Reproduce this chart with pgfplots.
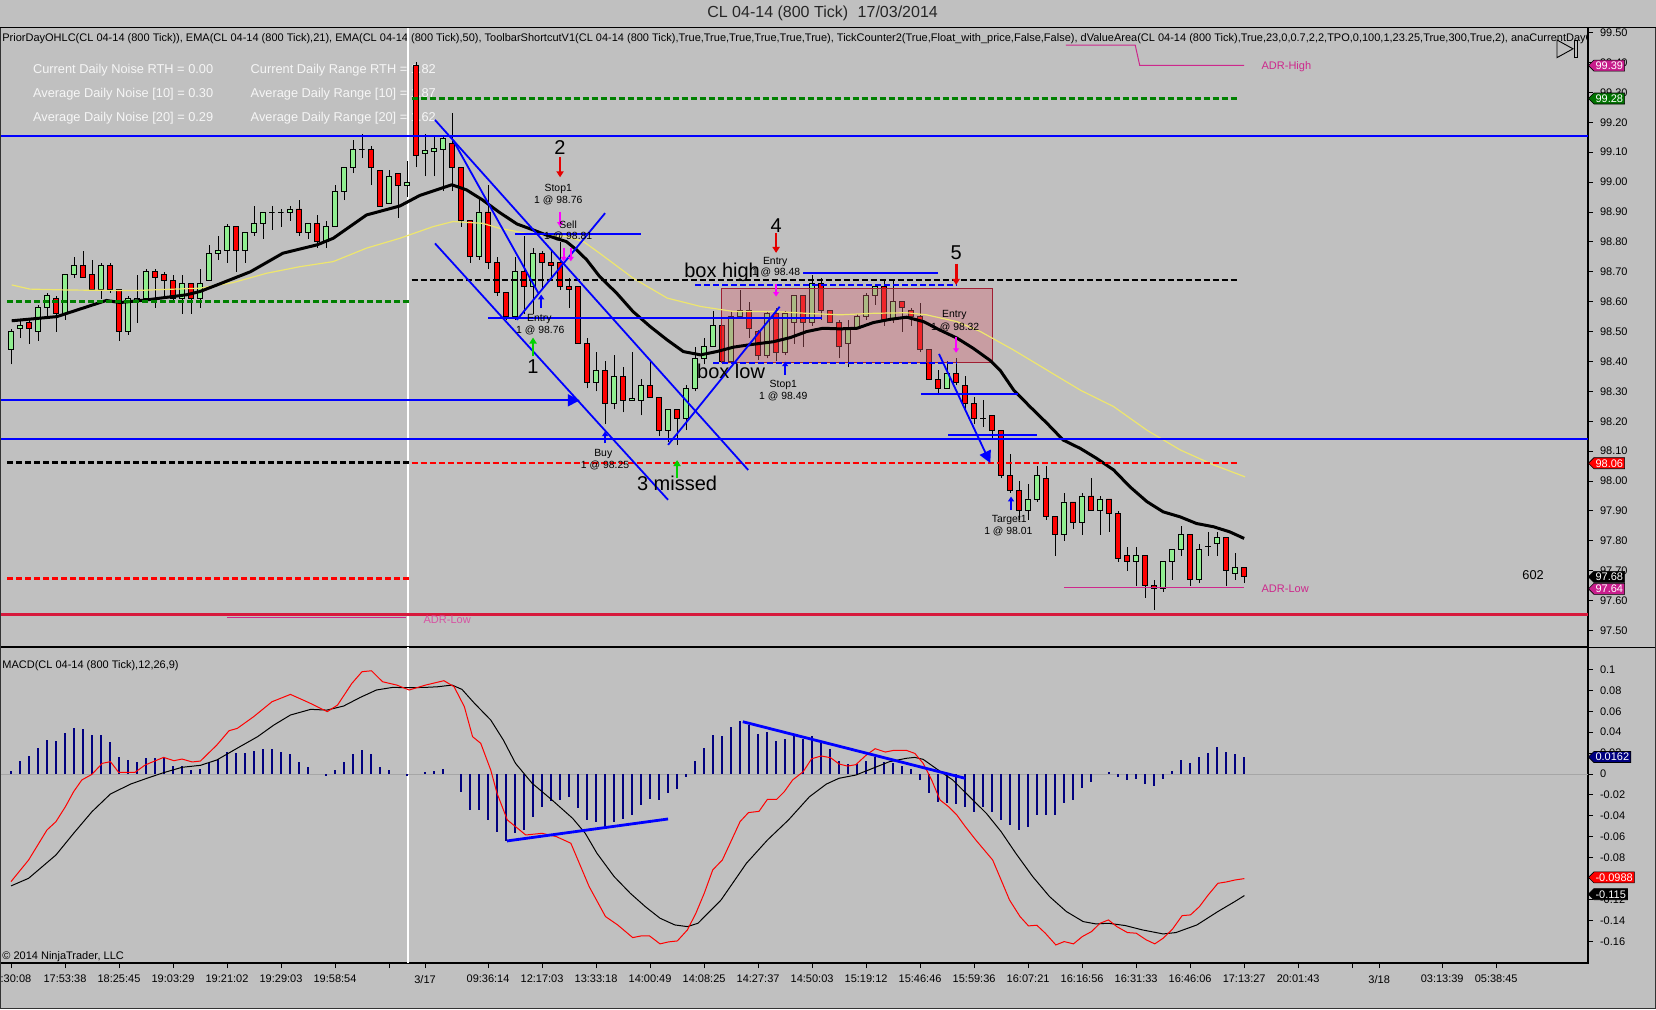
\documentclass[border=0pt]{standalone}
\usepackage{fontspec}
\setmainfont{Liberation Sans}
\usepackage{pgfplots}
\pgfplotsset{compat=1.18}
\usetikzlibrary{arrows.meta,shapes.symbols}
\definecolor{bg}{RGB}{192,192,192}
\definecolor{cgreen}{RGB}{144,238,144}
\definecolor{cred}{RGB}{255,0,0}
\definecolor{dgreen}{RGB}{0,128,0}
\definecolor{pblue}{RGB}{0,0,255}
\definecolor{navyb}{RGB}{0,0,128}
\definecolor{emay}{RGB}{238,230,110}
\definecolor{adr}{RGB}{205,40,140}
\definecolor{crim}{RGB}{215,25,60}
\definecolor{boxf}{RGB}{215,100,115}
\definecolor{boxd}{RGB}{160,30,50}
\definecolor{pinkm}{RGB}{255,0,255}
\definecolor{txtw}{RGB}{246,246,246}
\definecolor{tagm}{RGB}{200,30,140}
\definecolor{tagg}{RGB}{0,115,0}
\definecolor{agreen}{RGB}{0,210,0}
\newcommand\fsA{\fontsize{5.5pt}{6.5pt}\selectfont}
\newcommand\fsS{\fontsize{5.2pt}{6pt}\selectfont}
\newcommand\fsB{\fontsize{6.4pt}{7.5pt}\selectfont}
\newcommand\fsT{\fontsize{8pt}{9.5pt}\selectfont}
\newcommand\fsL{\fontsize{10pt}{11pt}\selectfont}
\newcommand\cdl[5]{%
  \addplot[black, line width=0.45pt] coordinates {(#1,#4) (#1,#3)};
  \pgfmathsetmacro\xl{#1-0.3}%
  \pgfmathsetmacro\xr{#1+0.3}%
  \pgfmathparse{(#5<#2)?1:0}%
  \ifdim\pgfmathresult pt>0.5pt \def\cc{cred}\else\def\cc{cgreen}\fi
  \edef\tmp{\noexpand\addplot[draw=black, line width=0.45pt, fill=\cc] coordinates {(\xl,#2) (\xr,#2) (\xr,#5) (\xl,#5) (\xl,#2)};}%
  \tmp
}
\pgfplotstableread{
i v
1 0.003
2 0.0127
3 0.017
4 0.025
5 0.0325
6 0.032
7 0.0395
8 0.0443
9 0.043
10 0.037
11 0.037
12 0.031
13 0.0166
14 0.0134
15 0.0115
16 0.0156
17 0.0156
18 0.015
19 0.0076
20 0.0076
21 0.0038
22 0.0045
23 0.0108
24 0.0143
25 0.0213
26 0.0197
27 0.0204
28 0.0223
29 0.0239
30 0.0236
31 0.0213
32 0.0191
33 0.0118
34 0.007
35 0
36 -0.002
37 0.0038
38 0.0115
39 0.0191
40 0.023
41 0.0191
42 0.007
43 0.0038
44 0
45 -0.002
46 0
47 0.002
48 0.0025
49 0.0045
50 0
51 -0.0169
52 -0.0344
53 -0.0344
54 -0.044
55 -0.055
56 -0.064
57 -0.0567
58 -0.0535
59 -0.0408
60 -0.0318
61 -0.0255
62 -0.0248
63 -0.0223
64 -0.0322
65 -0.044
66 -0.0455
67 -0.0503
68 -0.0455
69 -0.0433
70 -0.039
71 -0.0296
72 -0.0239
73 -0.0248
74 -0.0178
75 -0.0143
76 -0.0025
77 0.0127
78 0.0252
79 0.0373
80 0.0363
81 0.0452
82 0.0506
83 0.0468
84 0.0382
85 0.0404
86 0.0318
87 0.0334
88 0.0373
89 0.0331
90 0.0363
91 0.0299
92 0.0239
93 0.0127
94 0.0096
95 0.0092
96 0.0124
97 0.0166
98 0.0118
99 0.0108
100 0.0076
101 0.0045
102 -0.0057
103 -0.0178
104 -0.0264
105 -0.0274
106 -0.0287
107 -0.0318
108 -0.036
109 -0.0312
110 -0.0366
111 -0.044
112 -0.0487
113 -0.0535
114 -0.0503
115 -0.0392
116 -0.0392
117 -0.0392
118 -0.028
119 -0.0248
120 -0.013
121 -0.0073
122 0
123 0.0022
124 -0.0025
125 -0.0057
126 -0.0051
127 -0.0096
128 -0.0111
129 -0.0045
130 0.0032
131 0.0134
132 0.0102
133 0.0159
134 0.0197
135 0.0255
136 0.0207
137 0.0188
138 0.0166
}\histtbl
\begin{document}
\begin{tikzpicture}
\useasboundingbox (0,0) rectangle (828pt,-504.5pt);
\fill[bg] (0,0) rectangle (828pt,-504.5pt);
\node[text=black!85, font=\fsT] at (411.3pt,-6.9pt) {CL 04-14 (800 Tick)\hspace{0.6em}17/03/2014};
\begin{scope}
\clip (0,-14.2pt) rectangle (793.5pt,-24.5pt);
\node[anchor=west, inner sep=0pt, font=\fsA, text=black] at (1pt,-19.1pt) {PriorDayOHLC(CL 04-14 (800 Tick)), EMA(CL 04-14 (800 Tick),21), EMA(CL 04-14 (800 Tick),50), ToolbarShortcutV1(CL 04-14 (800 Tick),True,True,True,True,True,True), TickCounter2(True,Float\_with\_price,False,False), dValueArea(CL 04-14 (800 Tick),True,23,0,0.7,2,2,TPO,0,100,1,23.25,True,300,True,2), anaCurrentDayOHL(CL 04-14 (800 Tick))};
\end{scope}
\begin{scope}[every node/.style={anchor=west, inner sep=0pt, font=\fsB, text=txtw}]
\node at (16.35pt,-35.3pt) {Current Daily Noise RTH = 0.00};
\node at (16.35pt,-47.3pt) {Average Daily Noise [10] = 0.30};
\node at (16.35pt,-59pt) {Average Daily Noise [20] = 0.29};
\node at (125.15pt,-35.3pt) {Current Daily Range RTH = 1.82};
\node at (125.15pt,-47.3pt) {Average Daily Range [10] = 1.87};
\node at (125.15pt,-59pt) {Average Daily Range [20] = 1.62};
\end{scope}
\node[anchor=west, inner sep=0pt, font=\fsA] at (1pt,-333pt) {MACD(CL 04-14 (800 Tick),12,26,9)};
\node[anchor=west, inner sep=0pt, font=\fsA] at (1pt,-478.3pt) {\textcopyright\ 2014 NinjaTrader, LLC};
% ---------------- price panel
\begin{axis}[
  at={(0pt,-323.5pt)}, anchor=south west, scale only axis,
  width=794pt, height=309.75pt,
  xmin=-0.22, xmax=176.2, ymin=97.4448, ymax=99.517,
  axis line style={draw=black, line width=0.6pt},
  xtick=\empty,
  ytick={97.5,97.6,97.7,97.8,97.9,98.0,98.1,98.2,98.3,98.4,98.5,98.6,98.7,98.8,98.9,99.0,99.1,99.2,99.3,99.4,99.5},
  ytick pos=right, yticklabel pos=right, tick align=outside, major tick length=2.5pt,
  tick style={black, line width=0.45pt},
  yticklabel style={font=\fsA, /pgf/number format/.cd, fixed, fixed zerofill, precision=2, assume math mode=true},
  clip=true,
]
\addplot[white, line width=1pt] coordinates {(45.15,97.4448) (45.15,99.517)};
\cdl{1}{98.44}{98.51}{98.39}{98.50}
\cdl{2}{98.51}{98.54}{98.48}{98.52}
\cdl{3}{98.53}{98.54}{98.46}{98.51}
\cdl{4}{98.50}{98.59}{98.47}{98.58}
\cdl{5}{98.58}{98.63}{98.55}{98.62}
\cdl{6}{98.61}{98.62}{98.50}{98.56}
\cdl{7}{98.56}{98.69}{98.54}{98.69}
\cdl{8}{98.69}{98.75}{98.68}{98.72}
\cdl{9}{98.72}{98.77}{98.68}{98.68}
\cdl{10}{98.69}{98.74}{98.64}{98.64}
\cdl{11}{98.64}{98.73}{98.61}{98.72}
\cdl{12}{98.72}{98.73}{98.63}{98.64}
\cdl{13}{98.64}{98.64}{98.47}{98.50}
\cdl{14}{98.50}{98.62}{98.49}{98.61}
\cdl{15}{98.605}{98.69}{98.53}{98.61}
\cdl{16}{98.61}{98.71}{98.60}{98.70}
\cdl{17}{98.70}{98.71}{98.58}{98.68}
\cdl{18}{98.69}{98.70}{98.62}{98.67}
\cdl{19}{98.67}{98.69}{98.60}{98.61}
\cdl{20}{98.61}{98.69}{98.56}{98.66}
\cdl{21}{98.66}{98.66}{98.56}{98.61}
\cdl{22}{98.61}{98.71}{98.58}{98.66}
\cdl{23}{98.67}{98.79}{98.67}{98.76}
\cdl{24}{98.76}{98.82}{98.74}{98.77}
\cdl{25}{98.77}{98.86}{98.73}{98.85}
\cdl{26}{98.85}{98.85}{98.70}{98.77}
\cdl{27}{98.77}{98.83}{98.73}{98.83}
\cdl{28}{98.83}{98.92}{98.82}{98.86}
\cdl{29}{98.86}{98.90}{98.81}{98.90}
\cdl{30}{98.90}{98.92}{98.84}{98.90}
\cdl{31}{98.90}{98.91}{98.85}{98.90}
\cdl{32}{98.90}{98.92}{98.87}{98.91}
\cdl{33}{98.91}{98.94}{98.82}{98.83}
\cdl{34}{98.83}{98.86}{98.81}{98.86}
\cdl{35}{98.86}{98.89}{98.78}{98.80}
\cdl{36}{98.80}{98.87}{98.78}{98.85}
\cdl{37}{98.85}{98.99}{98.85}{98.97}
\cdl{38}{98.97}{99.05}{98.94}{99.05}
\cdl{39}{99.05}{99.14}{99.03}{99.11}
\cdl{40}{99.11}{99.16}{99.08}{99.11}
\cdl{41}{99.11}{99.12}{98.99}{99.05}
\cdl{42}{99.04}{99.04}{98.92}{98.92}
\cdl{43}{98.93}{99.04}{98.93}{99.02}
\cdl{44}{99.03}{99.03}{98.88}{98.99}
\cdl{45}{98.99}{99.07}{98.95}{99.00}
\cdl{46}{99.39}{99.40}{99.05}{99.09}
\cdl{47}{99.095}{99.16}{99.02}{99.106}
\cdl{48}{99.102}{99.15}{99.02}{99.113}
\cdl{49}{99.11}{99.15}{98.97}{99.145}
\cdl{50}{99.13}{99.23}{98.97}{99.05}
\cdl{51}{99.05}{99.05}{98.85}{98.87}
\cdl{52}{98.87}{98.87}{98.73}{98.75}
\cdl{53}{98.75}{98.95}{98.74}{98.90}
\cdl{54}{98.90}{98.99}{98.71}{98.73}
\cdl{55}{98.73}{98.75}{98.62}{98.63}
\cdl{56}{98.63}{98.63}{98.54}{98.55}
\cdl{57}{98.55}{98.75}{98.54}{98.70}
\cdl{58}{98.70}{98.82}{98.56}{98.65}
\cdl{59}{98.65}{98.78}{98.56}{98.76}
\cdl{60}{98.76}{98.77}{98.64}{98.73}
\cdl{61}{98.73}{98.77}{98.67}{98.72}
\cdl{62}{98.73}{98.80}{98.64}{98.65}
\cdl{63}{98.65}{98.68}{98.58}{98.64}
\cdl{64}{98.65}{98.65}{98.46}{98.46}
\cdl{65}{98.46}{98.48}{98.31}{98.33}
\cdl{66}{98.33}{98.43}{98.30}{98.37}
\cdl{67}{98.37}{98.40}{98.19}{98.26}
\cdl{68}{98.26}{98.42}{98.24}{98.35}
\cdl{69}{98.35}{98.38}{98.23}{98.27}
\cdl{70}{98.27}{98.43}{98.27}{98.275}
\cdl{71}{98.27}{98.34}{98.22}{98.32}
\cdl{72}{98.32}{98.40}{98.28}{98.28}
\cdl{73}{98.28}{98.28}{98.15}{98.17}
\cdl{74}{98.17}{98.24}{98.13}{98.24}
\cdl{75}{98.24}{98.24}{98.12}{98.21}
\cdl{76}{98.21}{98.32}{98.17}{98.31}
\cdl{77}{98.31}{98.45}{98.30}{98.41}
\cdl{78}{98.41}{98.48}{98.39}{98.45}
\cdl{79}{98.45}{98.57}{98.45}{98.52}
\cdl{80}{98.52}{98.52}{98.39}{98.40}
\cdl{81}{98.40}{98.57}{98.40}{98.55}
\cdl{82}{98.55}{98.64}{98.55}{98.57}
\cdl{83}{98.57}{98.60}{98.48}{98.51}
\cdl{84}{98.50}{98.505}{98.405}{98.42}
\cdl{85}{98.42}{98.57}{98.41}{98.56}
\cdl{86}{98.56}{98.58}{98.40}{98.43}
\cdl{87}{98.43}{98.57}{98.42}{98.56}
\cdl{88}{98.53}{98.62}{98.46}{98.62}
\cdl{89}{98.62}{98.62}{98.45}{98.53}
\cdl{90}{98.53}{98.69}{98.52}{98.66}
\cdl{91}{98.66}{98.68}{98.54}{98.57}
\cdl{92}{98.57}{98.57}{98.53}{98.53}
\cdl{93}{98.53}{98.54}{98.41}{98.45}
\cdl{94}{98.46}{98.54}{98.38}{98.51}
\cdl{95}{98.51}{98.56}{98.51}{98.55}
\cdl{96}{98.55}{98.63}{98.54}{98.62}
\cdl{97}{98.62}{98.66}{98.59}{98.65}
\cdl{98}{98.65}{98.67}{98.52}{98.54}
\cdl{99}{98.54}{98.67}{98.53}{98.60}
\cdl{100}{98.60}{98.60}{98.50}{98.58}
\cdl{101}{98.57}{98.58}{98.52}{98.55}
\cdl{102}{98.55}{98.595}{98.43}{98.44}
\cdl{103}{98.44}{98.44}{98.34}{98.34}
\cdl{104}{98.34}{98.37}{98.29}{98.31}
\cdl{105}{98.31}{98.40}{98.31}{98.36}
\cdl{106}{98.36}{98.41}{98.32}{98.33}
\cdl{107}{98.32}{98.35}{98.23}{98.26}
\cdl{108}{98.26}{98.28}{98.19}{98.21}
\cdl{109}{98.21}{98.27}{98.18}{98.21}
\cdl{110}{98.22}{98.22}{98.14}{98.17}
\cdl{111}{98.17}{98.17}{98.01}{98.02}
\cdl{112}{98.02}{98.09}{97.96}{97.97}
\cdl{113}{97.97}{98.00}{97.87}{97.90}
\cdl{114}{97.90}{97.99}{97.87}{97.94}
\cdl{115}{97.94}{98.05}{97.93}{98.02}
\cdl{116}{98.01}{98.05}{97.87}{97.88}
\cdl{117}{97.88}{97.88}{97.75}{97.82}
\cdl{118}{97.82}{97.96}{97.80}{97.93}
\cdl{119}{97.93}{97.93}{97.84}{97.86}
\cdl{120}{97.86}{97.96}{97.82}{97.95}
\cdl{121}{97.95}{98.01}{97.90}{97.90}
\cdl{122}{97.90}{97.95}{97.82}{97.94}
\cdl{123}{97.94}{97.94}{97.83}{97.89}
\cdl{124}{97.89}{97.90}{97.73}{97.74}
\cdl{125}{97.75}{97.78}{97.70}{97.73}
\cdl{126}{97.73}{97.78}{97.65}{97.75}
\cdl{127}{97.75}{97.75}{97.61}{97.65}
\cdl{128}{97.65}{97.67}{97.57}{97.64}
\cdl{129}{97.64}{97.73}{97.63}{97.73}
\cdl{130}{97.73}{97.77}{97.67}{97.77}
\cdl{131}{97.77}{97.85}{97.75}{97.82}
\cdl{132}{97.82}{97.82}{97.65}{97.67}
\cdl{133}{97.67}{97.79}{97.66}{97.77}
\cdl{134}{97.78}{97.83}{97.75}{97.78}
\cdl{135}{97.79}{97.83}{97.75}{97.81}
\cdl{136}{97.81}{97.81}{97.65}{97.70}
\cdl{137}{97.69}{97.76}{97.67}{97.71}
\cdl{138}{97.71}{97.71}{97.66}{97.68}
% box
\addplot[fill=boxf, fill opacity=0.38, draw=boxd, line width=0.5pt] coordinates {(79.9,98.396) (110.05,98.396) (110.05,98.645) (79.9,98.645) (79.9,98.396)};
% EMA 50
\addplot[emay, line width=0.6pt] coordinates {(1.08,98.656) (3.1,98.642) (7.2,98.639) (14.6,98.637) (22,98.645) (25.7,98.664) (29.4,98.695) (33.1,98.717) (36.8,98.734) (40.5,98.779) (44.2,98.812) (47.9,98.851) (50.1,98.868) (53.4,98.862) (55.2,98.846) (59,98.824) (62.7,98.818) (64.6,98.801) (66.4,98.762) (70.1,98.679) (73.9,98.612) (77.6,98.584) (81.3,98.567) (85.7,98.567) (89.4,98.561) (93.1,98.556) (96.8,98.561) (100.5,98.563) (102.7,98.556) (106.1,98.533) (108.7,98.50) (112.4,98.438) (116.1,98.371) (119.8,98.304) (123.5,98.249) (127.2,98.17) (130.9,98.104) (134.6,98.054) (138.1,98.014)};
% EMA 21
\addplot[black, line width=1.5pt, line join=round] coordinates {(1.08,98.536) (6.1,98.55) (11.6,98.604) (13.1,98.597) (16.1,98.606) (20.5,98.623) (22,98.634) (23.9,98.656) (27.6,98.70) (31.2,98.762) (35,98.79) (36.8,98.812) (40.5,98.89) (44.2,98.92) (46.4,98.955) (49.97,98.991) (51.6,98.974) (53.4,98.94) (55.2,98.90) (57.2,98.86) (59,98.84) (60.9,98.818) (62.7,98.801) (63.85,98.773) (64.96,98.74) (66.4,98.684) (68.3,98.628) (70.1,98.567) (72,98.517) (73.9,98.472) (75.7,98.433) (77.6,98.422) (79.4,98.433) (81.3,98.448) (83.1,98.456) (85.7,98.466) (87.6,98.48) (89.4,98.50) (91.2,98.511) (93.1,98.509) (95,98.511) (96.8,98.53) (98.7,98.541) (100.5,98.548) (102.4,98.533) (104.2,98.505) (106.1,98.478) (107.9,98.444) (109.8,98.403) (110.9,98.37) (112.4,98.304) (114.2,98.249) (116.1,98.193) (117.9,98.137) (119.8,98.109) (121.6,98.076) (123.5,98.037) (125.3,97.981) (127.2,97.931) (129,97.897) (130.9,97.88) (132.7,97.858) (134.6,97.847) (136.4,97.83) (138,97.808)};
% horizontal levels
\addplot[dgreen, line width=1.3pt, dash pattern=on 3pt off 1.5pt] coordinates {(45.5,99.28) (137.3,99.28)};
\addplot[dgreen, line width=1.3pt, dash pattern=on 3pt off 1.5pt] coordinates {(0.6,98.60) (45.3,98.60)};
\addplot[black, line width=1.3pt, dash pattern=on 3pt off 1.5pt] coordinates {(45.5,98.673) (137.3,98.673)};
\addplot[black, line width=1.3pt, dash pattern=on 3pt off 1.5pt] coordinates {(0.6,98.062) (45.3,98.062)};
\addplot[red, line width=1.3pt, dash pattern=on 3pt off 1.5pt] coordinates {(45.5,98.06) (137.3,98.06)};
\addplot[red, line width=1.3pt, dash pattern=on 3pt off 1.5pt] coordinates {(0.6,97.673) (45.3,97.673)};
\addplot[crim, line width=1.3pt] coordinates {(-0.22,97.553) (176.2,97.553)};
\addplot[adr, line width=0.5pt] coordinates {(25.0,97.543) (44.9,97.543)};
\addplot[adr, line width=0.5pt] coordinates {(118.2,99.458) (125.9,99.458) (126.4,99.39) (138,99.39)};
\addplot[adr, line width=0.5pt] coordinates {(118,97.645) (138,97.645)};
\addplot[pblue, line width=0.9pt] coordinates {(-0.22,99.154) (176.2,99.154)};
\addplot[pblue, line width=0.9pt] coordinates {(-0.22,98.14) (176.2,98.14)};
\addplot[pblue, line width=0.9pt, -{Triangle[width=6pt,length=6pt]}] coordinates {(-0.22,98.27) (64.2,98.27)};
% channel / trend lines
\addplot[pblue, line width=0.9pt] coordinates {(48.1,99.208) (82.9,98.037)};
\addplot[pblue, line width=0.9pt] coordinates {(50.1,99.141) (59.6,98.628)};
\addplot[pblue, line width=0.9pt] coordinates {(48.1,98.795) (74.0,97.937)};
\addplot[pblue, line width=0.9pt] coordinates {(57.2,98.539) (67.0,98.896)};
\addplot[pblue, line width=0.9pt] coordinates {(74.0,98.121) (86.4,98.583)};
\addplot[pblue, line width=0.9pt] coordinates {(57.0,98.826) (71.0,98.826)};
\addplot[pblue, line width=0.9pt] coordinates {(54.0,98.545) (91.1,98.545)};
\addplot[pblue, line width=0.9pt] coordinates {(89.0,98.695) (104.0,98.695)};
\addplot[pblue, line width=0.9pt, dash pattern=on 3pt off 1.5pt] coordinates {(77.0,98.655) (106.1,98.655)};
\addplot[pblue, line width=0.9pt, dash pattern=on 3pt off 1.5pt] coordinates {(79.0,98.395) (106.1,98.395)};
\addplot[pblue, line width=0.9pt] coordinates {(102.1,98.291) (112.9,98.291)};
\addplot[pblue, line width=0.9pt] coordinates {(105.1,98.154) (115.0,98.154)};
\addplot[pblue, line width=0.9pt, -{Triangle[width=6pt,length=6pt]}] coordinates {(104.1,98.425) (109.8,98.06)};
% trade arrows
\addplot[red!90!black, line width=1.4pt, -{Triangle[width=3.6pt,length=3pt]}] coordinates {(62.0,99.085) (62.0,99.016)};
\addplot[red!90!black, line width=1.4pt, -{Triangle[width=3.6pt,length=3pt]}] coordinates {(86.0,98.83) (86.0,98.763)};
\addplot[red!90!black, line width=1.4pt, -{Triangle[width=3.6pt,length=3pt]}] coordinates {(106.0,98.726) (106.0,98.656)};
\addplot[pinkm, line width=1pt, -{Triangle[width=2.8pt,length=2.2pt]}] coordinates {(62.0,98.90) (62.0,98.851)};
\addplot[pinkm, line width=1pt, -{Triangle[width=2.8pt,length=2.2pt]}] coordinates {(62.4,98.78) (62.4,98.735)};
\addplot[pinkm, line width=1pt, -{Triangle[width=2.8pt,length=2.2pt]}] coordinates {(63.2,98.78) (63.2,98.735)};
\addplot[pinkm, line width=1pt, -{Triangle[width=2.8pt,length=2.2pt]}] coordinates {(86.0,98.658) (86.0,98.617)};
\addplot[pinkm, line width=1pt, -{Triangle[width=2.8pt,length=2.2pt]}] coordinates {(106.0,98.483) (106.0,98.429)};
\addplot[pblue, line width=1.2pt, -{Triangle[width=3pt,length=2.4pt]}] coordinates {(59.9,98.578) (59.9,98.624)};
\addplot[pblue, line width=1.2pt, -{Triangle[width=3pt,length=2.4pt]}] coordinates {(87.0,98.355) (87.0,98.40)};
\addplot[pblue, line width=1.2pt, -{Triangle[width=3pt,length=2.4pt]}] coordinates {(67.0,98.126) (67.0,98.166)};
\addplot[pblue, line width=1.2pt, -{Triangle[width=3pt,length=2.4pt]}] coordinates {(112.1,97.903) (112.1,97.948)};
\addplot[agreen, line width=1.3pt, -{Triangle[width=3.6pt,length=3pt]}] coordinates {(59.0,98.417) (59.0,98.48)};
\addplot[agreen, line width=1.3pt, -{Triangle[width=3.6pt,length=3pt]}] coordinates {(75.0,98.009) (75.0,98.07)};
% annotations
\node[font=\fsL] at (axis cs:62.0,99.115) {2};
\node[font=\fsS, inner sep=0pt] at (axis cs:61.8,98.977) {Stop1};
\node[font=\fsS, inner sep=0pt] at (axis cs:61.8,98.938) {1 @ 98.76};
\node[font=\fsS, inner sep=0pt] at (axis cs:62.9,98.857) {Sell};
\node[font=\fsS, inner sep=0pt] at (axis cs:62.9,98.818) {1 @ 98.81};
\node[font=\fsS, inner sep=0pt] at (axis cs:59.7,98.542) {Entry};
\node[font=\fsS, inner sep=0pt] at (axis cs:59.8,98.504) {1 @ 98.76};
\node[font=\fsL] at (axis cs:59.0,98.383) {1};
\node[font=\fsL] at (axis cs:86.0,98.853) {4};
\node[font=\fsS, inner sep=0pt] at (axis cs:85.9,98.734) {Entry};
\node[font=\fsS, inner sep=0pt] at (axis cs:86.0,98.697) {1 @ 98.48};
\node[font=\fsL, inner sep=0pt] at (axis cs:80.0,98.698) {box high};
\node[font=\fsL, inner sep=0pt] at (axis cs:81.0,98.366) {box low};
\node[font=\fsS, inner sep=0pt] at (axis cs:86.8,98.321) {Stop1};
\node[font=\fsS, inner sep=0pt] at (axis cs:86.8,98.282) {1 @ 98.49};
\node[font=\fsL] at (axis cs:106.0,98.764) {5};
\node[font=\fsS, inner sep=0pt] at (axis cs:105.8,98.556) {Entry};
\node[font=\fsS, inner sep=0pt] at (axis cs:105.9,98.514) {1 @ 98.32};
\node[font=\fsS, inner sep=0pt] at (axis cs:66.8,98.09) {Buy};
\node[font=\fsS, inner sep=0pt] at (axis cs:67.0,98.051) {1 @ 98.25};
\node[font=\fsL, inner sep=0pt] at (axis cs:75.0,97.993) {3 missed};
\node[font=\fsS, inner sep=0pt] at (axis cs:111.9,97.87) {Target1};
\node[font=\fsS, inner sep=0pt] at (axis cs:111.8,97.83) {1 @ 98.01};
\node[font=\fsA, text=adr, anchor=west, inner sep=0pt] at (axis cs:139.9,99.386) {ADR-High};
\node[font=\fsA, text=adr, anchor=west, inner sep=0pt] at (axis cs:139.9,97.64) {ADR-Low};
\node[font=\fsA, text=adr!80!white, anchor=west, inner sep=0pt] at (axis cs:46.8,97.537) {ADR-Low};
\node[font=\fsB, inner sep=0pt] at (axis cs:170.1,97.684) {602};
\end{axis}
% ---------------- MACD panel
\begin{axis}[
  at={(0pt,-481.5pt)}, anchor=south west, scale only axis,
  width=794pt, height=158pt,
  xmin=-0.22, xmax=176.2, ymin=-0.1807, ymax=0.1214,
  axis line style={draw=black, line width=0.6pt},
  xtick={1,7,13,19,25,31,37,43,47,54,60,66,72,78,84,90,96,102,108,114,120,126,132,138,144,150,153,160,166},
  xticklabels={{\hspace*{5pt}:30:08},17:53:38,18:25:45,19:03:29,19:21:02,19:29:03,19:58:54,{},3/17,09:36:14,12:17:03,13:33:18,14:00:49,14:08:25,14:27:37,14:50:03,15:19:12,15:46:46,15:59:36,16:07:21,16:16:56,16:31:33,16:46:06,17:13:27,20:01:43,{},3/18,03:13:39,05:38:45},
  ytick={-0.16,-0.14,-0.12,-0.1,-0.08,-0.06,-0.04,-0.02,0,0.02,0.04,0.06,0.08,0.1},
  yticklabels={-0.16,-0.14,-0.12,-0.1,-0.08,-0.06,-0.04,-0.02,0,0.02,0.04,0.06,0.08,0.1},
  xtick pos=bottom, ytick pos=right, yticklabel pos=right,
  tick align=outside, major tick length=2.5pt,
  tick style={black, line width=0.45pt},
  xticklabel style={font=\fsA},
  yticklabel style={font=\fsA},
  clip=true,
]
\addplot[white, line width=1pt] coordinates {(45.15,-0.1807) (45.15,0.1214)};
\addplot[black!35, line width=0.4pt] coordinates {(-0.22,0) (176.2,0)};
\addplot[ycomb, navyb, line width=0.9pt] table[x=i, y=v] {\histtbl};
\addplot[black, line width=0.5pt] coordinates {(1.0,-0.107) (2.96,-0.0997) (6.0,-0.0774) (7.96,-0.0567) (10.0,-0.036) (12.05,-0.0191) (14.3,-0.0096) (16.1,-0.0041) (17.96,0.0013) (20.0,0.0064) (22.05,0.0083) (23.87,0.0134) (26.1,0.0245) (28.4,0.0357) (30.2,0.0468) (32.05,0.0564) (34.3,0.0618) (36.1,0.0611) (37.96,0.065) (39.8,0.0732) (41.6,0.0803) (43.4,0.0828) (45.2,0.0825) (47.05,0.0828) (48.4,0.0834) (50.0,0.085) (51.1,0.0809) (52.5,0.0675) (54.3,0.0516) (55.7,0.0325) (57.05,0.0102) (58.9,-0.0089) (61.1,-0.0248) (63.4,-0.0424) (64.8,-0.0567) (66.1,-0.0758) (68.0,-0.098) (69.8,-0.114) (71.47,-0.1268) (73.11,-0.1379) (74.75,-0.1443) (76.15,-0.1459) (77.32,-0.1427) (79.89,-0.1204) (82.7,-0.0854) (85.04,-0.0631) (87.38,-0.0439) (89.71,-0.0217) (91.59,-0.0096) (92.99,-0.0041) (94.86,-0.001) (96.73,0.0054) (98.6,0.0118) (100.47,0.015) (101.41,0.0159) (102.34,0.014) (103.75,0.0054) (105.62,-0.0057) (107.49,-0.0217) (109.36,-0.0376) (111.0,-0.0551) (112.63,-0.0758) (114.5,-0.098) (116.38,-0.1172) (118.25,-0.1315) (120.12,-0.1411) (121.52,-0.1433) (122.93,-0.1427) (124.8,-0.1449) (126.67,-0.149) (129.0,-0.1529) (130.41,-0.1516) (132.75,-0.1443) (135.08,-0.1315) (136.95,-0.122) (138.03,-0.1162)};
\addplot[red, line width=0.5pt] coordinates {(1.0,-0.1029) (2.96,-0.0822) (5.0,-0.0535) (6.0,-0.0455) (7.05,-0.0312) (7.96,-0.0169) (8.87,-0.0057) (10.0,-0.0003) (11.14,0.0102) (12.05,0.0118) (12.96,0.0016) (14.78,0.0016) (15.9,0.0086) (17.96,0.0159) (19.1,0.0127) (20.0,0.0143) (21.14,0.0115) (22.05,0.0124) (23.87,0.0277) (25.23,0.0414) (26.14,0.0436) (27.96,0.0548) (30.0,0.0691) (32.05,0.0761) (34.1,0.0682) (36.14,0.0596) (37.28,0.0659) (38.87,0.0866) (40.0,0.0978) (41.05,0.0987) (42.28,0.0882) (43.87,0.085) (45.23,0.0803) (47.05,0.085) (49.1,0.0892) (50.23,0.0834) (51.37,0.0643) (52.28,0.0357) (53.19,0.0293) (54.3,0.0038) (55.0,-0.0185) (56.14,-0.0439) (58.19,-0.0583) (60.0,-0.0567) (61.6,-0.0599) (63.2,-0.0662) (65.23,-0.1076) (67.05,-0.1363) (68.4,-0.1443) (70.07,-0.1564) (71.0,-0.1548) (71.94,-0.1548) (73.11,-0.1624) (74.05,-0.1605) (75.03,-0.1596) (76.15,-0.149) (77.09,-0.1331) (78.02,-0.114) (78.96,-0.0917) (80.03,-0.0822) (81.06,-0.0631) (82.0,-0.0455) (82.93,-0.0369) (84.1,-0.0357) (85.04,-0.0242) (86.07,-0.0242) (86.91,-0.0169) (87.84,-0.0057) (89.01,0.0022) (89.95,0.0146) (91.02,0.0172) (92.05,0.0156) (92.99,0.0096) (93.92,0.0076) (94.86,0.0089) (96.03,0.0182) (97.01,0.0242) (98.13,0.021) (99.07,0.0226) (100.47,0.0226) (101.41,0.0197) (102.34,0.0102) (103.28,-0.0057) (104.21,-0.0248) (105.15,-0.0312) (106.08,-0.0392) (107.02,-0.0503) (108.19,-0.0631) (110.06,-0.0822) (111.0,-0.1013) (111.93,-0.1204) (113.1,-0.1363) (114.04,-0.1452) (114.97,-0.1446) (115.91,-0.1522) (117.08,-0.1634) (118.01,-0.1602) (119.04,-0.1624) (120.02,-0.1554) (121.05,-0.1506) (121.99,-0.1427) (122.92,-0.1395) (123.86,-0.1459) (125.03,-0.1516) (126.01,-0.1522) (127.13,-0.1586) (128.07,-0.1624) (129.0,-0.157) (130.03,-0.1484) (131.11,-0.1354) (132.04,-0.1347) (133.03,-0.1268) (134.01,-0.1156) (135.08,-0.1045) (136.02,-0.1032) (137.0,-0.1013) (138.03,-0.1)};
\addplot[pblue, line width=1.4pt] coordinates {(56.1,-0.064) (74.0,-0.043)};
\addplot[pblue, line width=1.4pt] coordinates {(82.3,0.050) (107.0,-0.0041)};
\end{axis}
% value tags on the right axis
\begin{scope}[every node/.style={signal, signal to=west, signal from=nowhere, draw=black, line width=0.3pt, text=white, font=\fsA, inner sep=0.8pt, anchor=west}]
\node[fill=tagm] at (794pt,-32.8pt) {99.39};
\node[fill=tagg] at (794pt,-49.25pt) {99.28};
\node[fill=red] at (794pt,-231.6pt) {98.06};
\node[fill=black] at (794pt,-288.4pt) {97.68};
\node[fill=tagm] at (794pt,-294.4pt) {97.64};
\node[fill=navyb] at (794pt,-378.5pt) {0.0162};
\node[fill=red] at (794pt,-438.7pt) {-0.0988};
\node[fill=black] at (794pt,-447.1pt) {-0.115};
\end{scope}
% toolbar icon
\draw[black, line width=0.45pt] (778.5pt,-20pt) -- (786.5pt,-24.4pt) -- (778.5pt,-28.8pt) -- cycle;
\draw[black, line width=0.45pt] (787pt,-20pt) rectangle (788.6pt,-28.8pt);
% frame
\draw[black, line width=0.6pt] (0,-13.75pt) -- (828pt,-13.75pt);
\draw[black, line width=0.5pt] (794pt,-323.5pt) -- (828pt,-323.5pt);
\draw[black!80, line width=0.6pt] (0.3pt,-13.75pt) -- (0.3pt,-504.2pt) -- (827.7pt,-504.2pt) -- (827.7pt,-13.75pt);
\end{tikzpicture}
\end{document}
